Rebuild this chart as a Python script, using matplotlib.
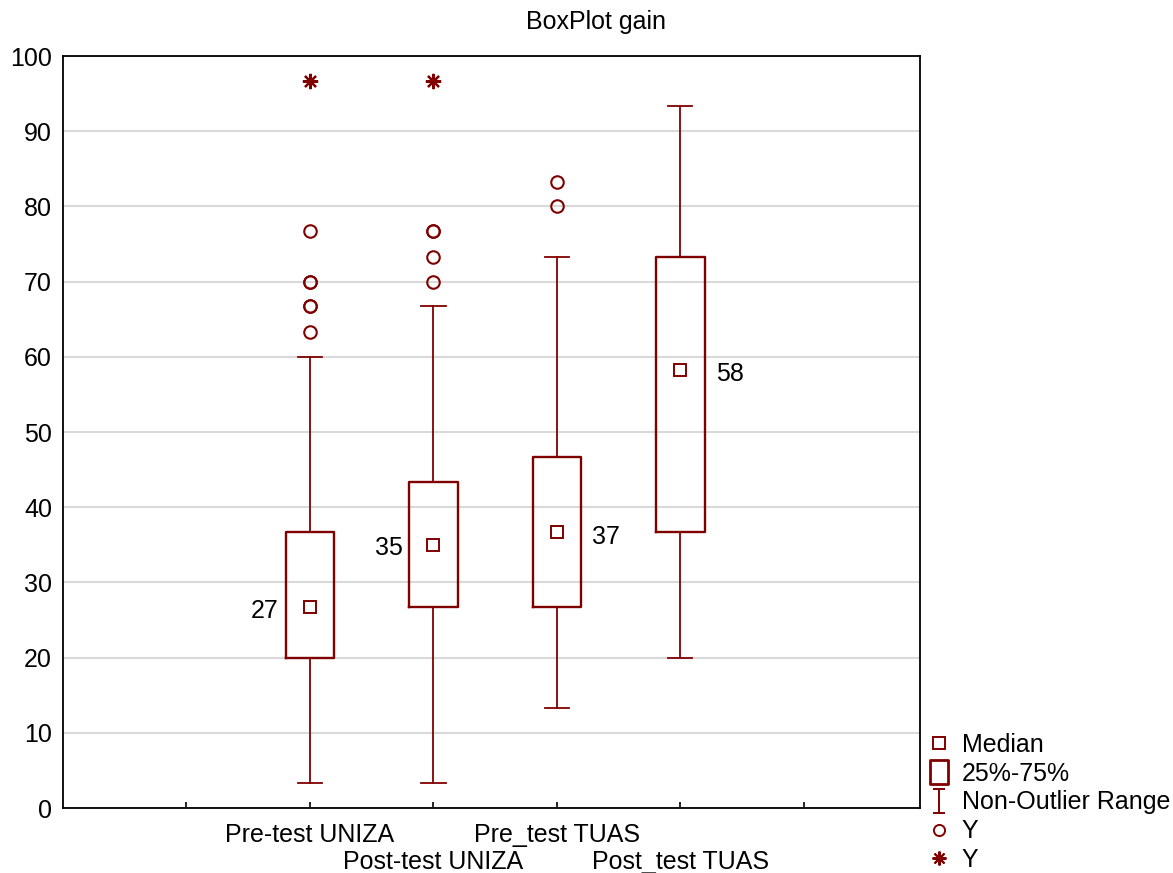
import matplotlib
matplotlib.use("Agg")
import matplotlib.pyplot as plt
from matplotlib.lines import Line2D
from matplotlib.path import Path

plt.rcParams['font.family'] = ['Liberation Sans', 'DejaVu Sans']

categories = ["Pre-test UNIZA", "Post-test UNIZA", "Pre_test TUAS", "Post_test TUAS"]
medians = [26.7, 35.0, 36.7, 58.3]
q1 = [20.0, 26.7, 26.7, 36.7]
q3 = [36.7, 43.3, 46.7, 73.3]
whisker_low = [3.3, 3.3, 13.3, 20.0]
whisker_high = [60.0, 66.7, 73.3, 93.3]
outliers = [[63.3, 66.7, 66.7, 70.0, 70.0, 76.7],
            [70.0, 73.3, 76.7, 76.7],
            [80.0, 83.3],
            []]
extremes = [[96.7], [96.7], [], []]
median_labels = ["27", "35", "37", "58"]
label_side = ["left", "left", "right", "right"]
title = "BoxPlot gain"
yticks = [0, 10, 20, 30, 40, 50, 60, 70, 80, 90, 100]

col = '#800000'
fs = 18

fig = plt.figure(figsize=(11.73, 8.73), dpi=100)
ax = fig.add_axes([63/1173, 1-808/873, (920-63)/1173, (808-56)/873])

positions = [2, 3, 4, 5]
stats = []
for i in range(4):
    stats.append(dict(med=medians[i], q1=q1[i], q3=q3[i],
                      whislo=whisker_low[i], whishi=whisker_high[i],
                      fliers=outliers[i]))

bw = 0.39
ax.bxp(stats, positions=positions, widths=bw, showfliers=True,
       boxprops=dict(color=col, linewidth=1.7),
       whiskerprops=dict(color=col, linewidth=1.3),
       capprops=dict(color=col, linewidth=1.3),
       medianprops=dict(linestyle='none'),
       flierprops=dict(marker='o', markerfacecolor='none', markeredgecolor=col,
                       markersize=9, markeredgewidth=1.5, linestyle='none'),
       capwidths=bw*0.5, zorder=3)

ax.plot(positions, medians, linestyle='none', marker='s', markersize=9,
        markerfacecolor='none', markeredgecolor=col, markeredgewidth=1.4, zorder=4)

ast = (8, 2, 0)
for p, ex in zip(positions, extremes):
    if ex:
        ax.plot([p]*len(ex), ex, linestyle='none', marker=ast, markersize=11,
                markeredgecolor=col, markeredgewidth=1.6, zorder=4)

for p, m, lab, side in zip(positions, medians, median_labels, label_side):
    if side == 'left':
        ax.annotate(lab, xy=(p - bw/2, m), xytext=(-5, -2.5), textcoords='offset points',
                    ha='right', va='center', fontsize=fs)
    else:
        ax.annotate(lab, xy=(p + bw/2, m), xytext=(8, -3.5), textcoords='offset points',
                    ha='left', va='center', fontsize=fs)

ax.set_xlim(0, 6.94)
ax.set_ylim(0, 100)
ax.set_yticks(yticks)
ax.set_yticklabels([str(v) for v in yticks], fontsize=fs)
ax.tick_params(axis='y', length=0, pad=8)
ax.yaxis.grid(True, color='#d9d9d9', linewidth=1.5, zorder=0)
ax.set_axisbelow(True)

ax.set_xticks(positions)
ax.set_xticklabels([''] * len(positions))
ax.set_xticks([1, 6], minor=True)
ax.tick_params(axis='x', which='both', direction='in', length=4, width=1.2)
for i, (p, c) in enumerate(zip(positions, categories)):
    dy = -19.5 if i % 2 == 0 else -39
    ax.annotate(c, xy=(p, 0), xycoords=('data', 'axes fraction'),
                xytext=(0, dy), textcoords='offset points',
                ha='center', va='center', fontsize=fs)
for s in ax.spines.values():
    s.set_linewidth(1.3)

fig.text(596/1173, 1-22/873, title, ha='center', va='center', fontsize=fs)

ibeam = Path([(-0.5, 1), (0.5, 1), (0, 1), (0, -1), (-0.5, -1), (0.5, -1)],
             [Path.MOVETO, Path.LINETO, Path.MOVETO, Path.LINETO, Path.MOVETO, Path.LINETO])
rect = Path([(-0.4, -0.5), (0.4, -0.5), (0.4, 0.5), (-0.4, 0.5), (-0.4, -0.5)],
            [Path.MOVETO, Path.LINETO, Path.LINETO, Path.LINETO, Path.CLOSEPOLY])
handles = [
    Line2D([], [], linestyle='none', marker='s', markersize=8, markerfacecolor='none',
           markeredgecolor=col, markeredgewidth=1.4),
    Line2D([], [], linestyle='none', marker=rect, markersize=17, markerfacecolor='none',
           markeredgecolor=col, markeredgewidth=2.0),
    Line2D([], [], linestyle='none', marker=ibeam, markersize=17, markerfacecolor='none',
           markeredgecolor=col, markeredgewidth=1.4),
    Line2D([], [], linestyle='none', marker='o', markersize=8, markerfacecolor='none',
           markeredgecolor=col, markeredgewidth=1.4),
    Line2D([], [], linestyle='none', marker=ast, markersize=10, markeredgecolor=col,
           markeredgewidth=1.5),
]
leg_labels = ["Median", "25%-75%", "Non-Outlier Range", "Y", "Y"]
fig.legend(handles, leg_labels, loc='upper left', bbox_to_anchor=(929/1173, 1-733/873),
           frameon=False, fontsize=fs, handlelength=0.8, handletextpad=0.5,
           labelspacing=0.19, borderpad=0, borderaxespad=0)

fig.savefig("out.png", dpi=100)
